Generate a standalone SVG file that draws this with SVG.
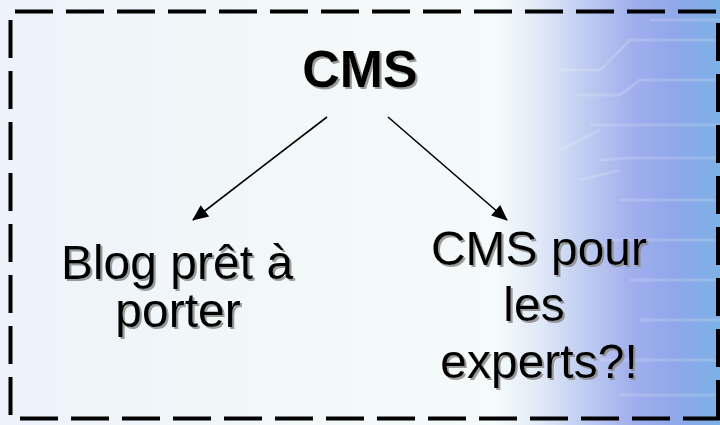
<svg xmlns="http://www.w3.org/2000/svg" width="720" height="425" viewBox="0 0 720 425">
  <defs>
    <linearGradient id="bg" x1="0" y1="0" x2="1" y2="0">
      <stop offset="0" stop-color="#eef2fb"/>
      <stop offset="0.45" stop-color="#f3f9f8"/>
      <stop offset="0.69" stop-color="#f5fbfa"/>
      <stop offset="0.75" stop-color="#e0e9f7"/>
      <stop offset="0.81" stop-color="#c0cdf1"/>
      <stop offset="0.88" stop-color="#a0aeec"/>
      <stop offset="0.94" stop-color="#8ea8ea"/>
      <stop offset="1" stop-color="#7db0e6"/>
    </linearGradient>
    <filter id="shadow" x="-10%" y="-10%" width="130%" height="140%">
      <feDropShadow dx="2" dy="2" stdDeviation="0.6" flood-color="#8a8a8a" flood-opacity="0.85"/>
    </filter>
    <marker id="arrow" viewBox="0 0 10 10" refX="9" refY="5" markerWidth="10" markerHeight="10" markerUnits="userSpaceOnUse" orient="auto" overflow="visible">
      <path d="M-6,-2 L10,5 L-6,12 Z" fill="#000"/>
    </marker>
    <style>
      .t { font-family: "Liberation Sans", Arial, sans-serif; font-size: 48px; text-anchor: middle; fill: #000; filter: url(#shadow); }
      .h { font-family: "Liberation Sans", Arial, sans-serif; font-size: 52px; font-weight: bold; text-anchor: middle; fill: #000; filter: url(#shadow); }
      .border { stroke: #000; stroke-width: 4; stroke-dasharray: 38 13; fill: none; }
      .circ { stroke: #ffffff; stroke-opacity: 0.16; stroke-width: 3; fill: none; }
      .conn { stroke: #000; stroke-width: 1.6; fill: none; }
    </style>
  </defs>

  <rect x="0" y="0" width="720" height="425" fill="url(#bg)"/>

  <g id="circuit">
    <path class="circ" d="M560,70 H600 L630,40 H720"/>
    <path class="circ" d="M575,95 H620 L640,80 H720"/>
    <path class="circ" d="M590,125 H720"/>
    <path class="circ" d="M560,150 L600,130"/>
    <path class="circ" d="M600,160 L630,158 H720"/>
    <path class="circ" d="M580,180 L620,170"/>
    <path class="circ" d="M620,200 H720"/>
    <path class="circ" d="M610,240 H720"/>
    <path class="circ" d="M630,280 H720"/>
    <path class="circ" d="M640,320 H720"/>
    <path class="circ" d="M600,360 H720"/>
    <path class="circ" d="M620,395 H720"/>
    <path class="circ" d="M650,20 H720"/>
  </g>

  <g id="border">
    <line class="border" x1="15" y1="11.5" x2="720" y2="11.5"/>
    <line class="border" x1="10.5" y1="20" x2="10.5" y2="420"/>
    <line class="border" x1="20" y1="418.5" x2="720" y2="418.5"/>
    <line class="border" x1="718" y1="23" x2="718" y2="420"/>
  </g>

  <g id="connectors">
    <line class="conn" x1="327" y1="117" x2="193" y2="220" marker-end="url(#arrow)"/>
    <line class="conn" x1="388" y1="117" x2="507" y2="220" marker-end="url(#arrow)"/>
  </g>

  <g id="node-cms">
    <text class="h" x="360" y="87">CMS</text>
  </g>

  <g id="node-blog">
    <text class="t" x="177" y="279">Blog prêt à</text>
    <text class="t" x="178" y="327">porter</text>
  </g>

  <g id="node-experts">
    <text class="t" x="539" y="265">CMS pour</text>
    <text class="t" x="534" y="321">les</text>
    <text class="t" x="539" y="378">experts?!</text>
  </g>
</svg>
